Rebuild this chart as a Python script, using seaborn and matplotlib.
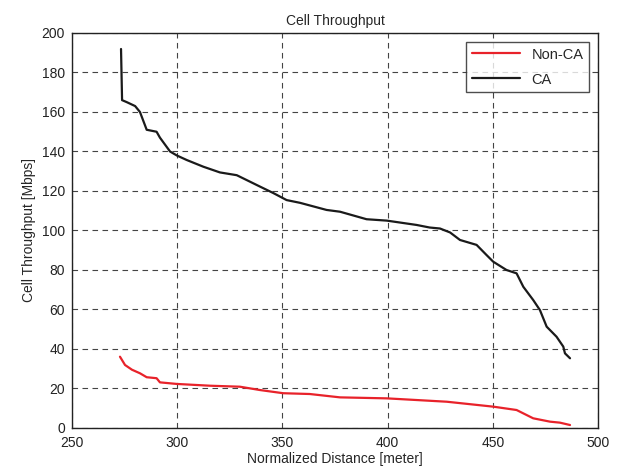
import pandas as pd
import matplotlib
matplotlib.use("Agg")
import matplotlib.pyplot as plt
import seaborn as sns

# values
ca_dist = [273.3, 273.8, 276.0, 280.0, 282.3, 285.5, 290.2, 291.8, 296.6, 299.8,
           304.5, 312.4, 320.3, 328.3, 339.4, 345.6, 352.0, 358.4, 371.0, 377.4,
           390.0, 399.6, 413.8, 420.0, 424.9, 429.7, 434.4, 442.3, 447.0, 450.2,
           456.5, 461.3, 464.5, 469.2, 472.4, 475.6, 480.3, 483.5, 484.3, 486.7]
ca_tput = [191.9, 166.0, 165.0, 163.0, 160.0, 151.0, 150.0, 147.0, 140.0, 138.0,
           135.7, 132.3, 129.4, 128.0, 122.2, 119.0, 115.4, 114.0, 110.4, 109.5,
           105.7, 105.0, 102.8, 101.5, 101.0, 99.0, 95.2, 92.7, 87.6, 84.2,
           80.0, 78.3, 71.5, 64.8, 59.7, 51.3, 46.2, 41.2, 37.8, 35.3]

nonca_dist = [272.8, 275.2, 278.5, 282.3, 285.5, 290.2, 291.8, 299.8, 315.6, 329.8,
              339.4, 350.4, 363.0, 377.4, 399.6, 428.1, 450.2, 461.3, 469.2, 477.2,
              481.9, 486.7]
nonca_tput = [36.1, 31.9, 29.5, 27.7, 25.7, 25.2, 23.1, 22.3, 21.4, 20.9,
              19.2, 17.6, 17.2, 15.5, 15.0, 13.3, 10.8, 9.1, 4.9, 3.2,
              2.7, 1.5]

df = pd.concat([
    pd.DataFrame({"dist": nonca_dist, "tput": nonca_tput, "scheme": "Non-CA"}),
    pd.DataFrame({"dist": ca_dist, "tput": ca_tput, "scheme": "CA"}),
])

sns.set_style("white")
plt.rcParams["font.family"] = ["Liberation Sans", "DejaVu Sans"]

fig = plt.figure(figsize=(6.25, 4.7), dpi=100)
ax = fig.add_axes([0.1152, 0.0894, 0.8416, 0.8404])

sns.lineplot(data=df, x="dist", y="tput", hue="scheme", sort=False,
             palette={"Non-CA": "#e8222a", "CA": "#1a1a1a"},
             linewidth=1.6, estimator=None, ax=ax)

ax.set_xlim(250, 500)
ax.set_ylim(0, 200)
ax.set_xticks(range(250, 501, 50))
ax.set_yticks(range(0, 201, 20))
ax.grid(True, color="#444444", linestyle=(0, (5, 4)), linewidth=0.8)
ax.tick_params(direction="in", length=4, labelsize=10, colors="#222222")
ax.tick_params(axis="x", pad=6)
ax.tick_params(axis="y", pad=5)
for s in ax.spines.values():
    s.set_color("#222222")
    s.set_linewidth(1.0)

ax.set_xlabel("Normalized Distance [meter]", fontsize=10, labelpad=1)
ax.set_ylabel("Cell Throughput [Mbps]", fontsize=10)
ax.set_title("Cell Throughput", fontsize=10, pad=6)

leg = ax.legend(title=None, loc="upper right", fontsize=10.5, frameon=True,
                fancybox=False, edgecolor="#222222", handlelength=3.3,
                labelspacing=0.75, borderaxespad=0.6)
leg.get_frame().set_linewidth(1.0)

fig.savefig("out.png", dpi=100)
